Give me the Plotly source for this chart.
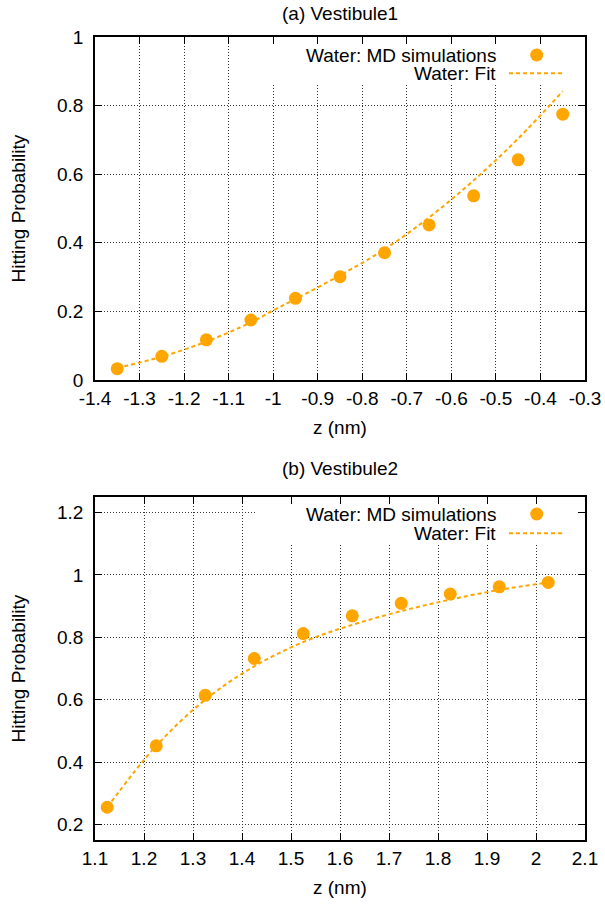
import plotly.graph_objects as go

# ---------------- data ----------------
z_a = [-1.35, -1.25, -1.15, -1.05, -0.95, -0.85, -0.75, -0.65, -0.55, -0.45, -0.35]
hp_a_md = [0.033, 0.069, 0.117, 0.175, 0.238, 0.301, 0.371, 0.452, 0.537, 0.642, 0.775]
z_a_fit = [-1.35, -1.25, -1.15, -1.05, -1.0, -0.95, -0.85, -0.75, -0.65, -0.55, -0.45, -0.35]
hp_a_fit = [0.035, 0.068, 0.112, 0.168, 0.203, 0.236, 0.305, 0.381, 0.474, 0.582, 0.704, 0.842]

z_b = [1.125, 1.225, 1.325, 1.425, 1.525, 1.625, 1.725, 1.825, 1.925, 2.025]
hp_b_md = [0.255, 0.452, 0.614, 0.732, 0.812, 0.869, 0.909, 0.939, 0.962, 0.976]
z_b_fit = [1.125, 1.225, 1.325, 1.425, 1.525, 1.625, 1.725, 1.825, 1.925, 2.025]
hp_b_fit = [0.255, 0.452, 0.600, 0.707, 0.785, 0.840, 0.884, 0.921, 0.952, 0.976]

xticks_a = [-1.4, -1.3, -1.2, -1.1, -1.0, -0.9, -0.8, -0.7, -0.6, -0.5, -0.4, -0.3]
xticklabels_a = ["-1.4", "-1.3", "-1.2", "-1.1", "-1", "-0.9", "-0.8", "-0.7", "-0.6", "-0.5", "-0.4", "-0.3"]
yticks_a = [0, 0.2, 0.4, 0.6, 0.8, 1.0]
yticklabels_a = ["0", "0.2", "0.4", "0.6", "0.8", "1"]
xticks_b = [1.1, 1.2, 1.3, 1.4, 1.5, 1.6, 1.7, 1.8, 1.9, 2.0, 2.1]
xticklabels_b = ["1.1", "1.2", "1.3", "1.4", "1.5", "1.6", "1.7", "1.8", "1.9", "2", "2.1"]
yticks_b = [0.2, 0.4, 0.6, 0.8, 1.0, 1.2]
yticklabels_b = ["0.2", "0.4", "0.6", "0.8", "1", "1.2"]

xrange_a = [-1.4, -0.3]
yrange_a = [0, 1]
xrange_b = [1.1, 2.1]
yrange_b = [0.15, 1.25]

titles = ["(a) Vestibule1", "(b) Vestibule2"]
xlabel = "z (nm)"
ylabel = "Hitting Probability"
legend_md = "Water: MD simulations"
legend_fit = "Water: Fit"

# ---------------- style ----------------
ORANGE = "#FFA500"
FONT = "Liberation Sans"
FS = 19
W, H = 605, 904
ML, MR, MT, MB = 95, 20, 37, 64
PW = W - ML - MR

fig = go.Figure()

fig.add_trace(go.Scatter(x=z_a_fit, y=hp_a_fit, mode="lines", line=dict(color=ORANGE, width=2, dash="4px,3px", shape="spline"),
                         xaxis="x", yaxis="y", showlegend=False, hoverinfo="skip"))
fig.add_trace(go.Scatter(x=z_a, y=hp_a_md, mode="markers", marker=dict(color=ORANGE, size=13, line=dict(width=0)),
                         xaxis="x", yaxis="y", showlegend=False))
fig.add_trace(go.Scatter(x=z_b_fit, y=hp_b_fit, mode="lines", line=dict(color=ORANGE, width=2, dash="4px,3px", shape="spline"),
                         xaxis="x2", yaxis="y2", showlegend=False, hoverinfo="skip"))
fig.add_trace(go.Scatter(x=z_b, y=hp_b_md, mode="markers", marker=dict(color=ORANGE, size=13, line=dict(width=0)),
                         xaxis="x2", yaxis="y2", showlegend=False))

plot_h = H - MT - MB
def yfrac(py):
    return (H - MB - py) / plot_h

dom_a = [yfrac(380), 1.0]
dom_b = [0.0, yfrac(497)]

axis_common = dict(
    showline=True, linecolor="black", linewidth=1.6, mirror="allticks",
    ticks="inside", ticklen=7, tickwidth=1.2, tickcolor="black",
    showgrid=True, gridcolor="#333333", gridwidth=1, griddash="1px,2px",
    zeroline=False, tickfont=dict(family=FONT, size=FS, color="black"),
    ticklabeloverflow="allow", automargin=False,
)

fig.update_layout(
    template="none",
    width=W, height=H, autosize=False,
    margin=dict(l=ML, r=MR, t=MT, b=MB, pad=0),
    paper_bgcolor="white", plot_bgcolor="white",
    font=dict(family=FONT, size=FS, color="black"),
    showlegend=False,
    xaxis=dict(axis_common, range=xrange_a, tickvals=xticks_a, ticktext=xticklabels_a,
               anchor="y", domain=[0, 1], ticklabelstandoff=0),
    yaxis=dict(axis_common, range=yrange_a, tickvals=yticks_a, ticktext=yticklabels_a,
               anchor="x", domain=dom_a, ticklabelstandoff=6),
    xaxis2=dict(axis_common, range=xrange_b, tickvals=xticks_b, ticktext=xticklabels_b,
                anchor="y2", domain=[0, 1], ticklabelstandoff=0),
    yaxis2=dict(axis_common, range=yrange_b, tickvals=yticks_b, ticktext=yticklabels_b,
                anchor="x2", domain=dom_b, ticklabelstandoff=6),
)

annotations = []
shapes = []
for i, (xr, yr, xrg, yrg) in enumerate([("x", "y", xrange_a, yrange_a), ("x2", "y2", xrange_b, yrange_b)]):
    def fx(f):
        return xrg[0] + f * (xrg[1] - xrg[0])
    def fy(f):
        return yrg[0] + f * (yrg[1] - yrg[0])
    title_py = 13.5 if i == 0 else 469
    xlab_py = 427 if i == 0 else 887
    ylab_py = 208.5 if i == 0 else 668.5
    annotations.append(dict(text=titles[i], xref="paper", yref="paper", x=0.5, y=yfrac(title_py),
                            xanchor="center", yanchor="middle", showarrow=False, font=dict(size=FS)))
    annotations.append(dict(text=xlabel, xref="paper", yref="paper", x=0.5, y=yfrac(xlab_py),
                            xanchor="center", yanchor="middle", showarrow=False, font=dict(size=FS)))
    annotations.append(dict(text=ylabel, xref="paper", yref="paper", x=(18 - ML) / PW, y=yfrac(ylab_py),
                            xanchor="center", yanchor="middle", textangle=-90, showarrow=False, font=dict(size=FS)))
    # legend box (opaque, hides grid)
    shapes.append(dict(type="rect", xref=xr, yref=yr, x0=fx((255 - ML) / PW), x1=fx(1.0),
                       y0=fy(0.86), y1=fy(1.0), fillcolor="white", line=dict(width=0), layer="between"))
    l1 = 0.9504 if i == 1 else 0.9475
    l2 = 0.894
    annotations.append(dict(text=legend_md, xref=f"{xr} domain", yref=f"{yr} domain", x=(498 - ML) / PW, y=l1,
                            xanchor="right", yanchor="middle", showarrow=False, font=dict(size=FS)))
    annotations.append(dict(text=legend_fit, xref=f"{xr} domain", yref=f"{yr} domain", x=(498 - ML) / PW, y=l2,
                            xanchor="right", yanchor="middle", showarrow=False, font=dict(size=FS)))
    shapes.append(dict(type="circle", xref=xr, yref=yr, xsizemode="pixel", ysizemode="pixel",
                       xanchor=fx((536.7 - ML) / PW), yanchor=fy(l1), x0=-6.5, x1=6.5, y0=-6.5, y1=6.5,
                       fillcolor=ORANGE, line=dict(width=0), layer="above"))
    shapes.append(dict(type="line", xref=xr, yref=yr, x0=fx((509 - ML) / PW), x1=fx((563 - ML) / PW),
                       y0=fy(l2), y1=fy(l2), line=dict(color=ORANGE, width=2, dash="4px,3px"), layer="above"))

fig.update_layout(annotations=annotations, shapes=shapes)
fig.write_html("out.html", config={"displayModeBar": False, "responsive": False},
               post_script="document.body.style.margin='0';")
